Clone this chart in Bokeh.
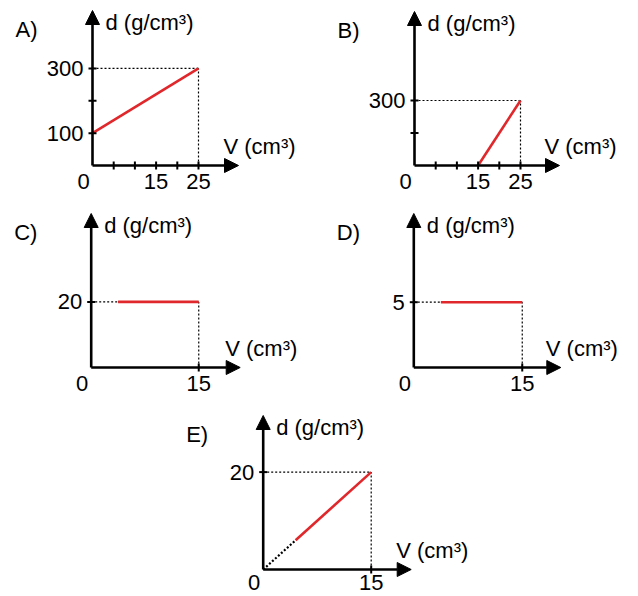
from bokeh.plotting import figure
from bokeh.models import Range1d, Arrow, NormalHead
from bokeh.core.properties import value
from bokeh.embed import file_html
from bokeh.resources import INLINE

# ---------------- data ----------------
panel_names = ["A)", "B)", "C)", "D)", "E)"]

a_x_ticks = [5, 10, 15, 20, 25]
a_x_labels = [15, 25]
a_y_ticks = [100, 200, 300]
a_y_labels = [100, 300]
a_line_v = [0, 25]
a_line_d = [100, 300]

b_x_ticks = [5, 10, 15, 20, 25]
b_x_labels = [15, 25]
b_y_ticks = [150, 300]
b_y_labels = [300]
b_line_v = [15, 25]
b_line_d = [0, 300]

c_x_ticks = [15]
c_x_labels = [15]
c_y_ticks = [20]
c_y_labels = [20]
c_line_v = [3.75, 15]
c_line_d = [20, 20]

d_x_ticks = [15]
d_x_labels = [15]
d_y_ticks = [5]
d_y_labels = [5]
d_line_v = [3.75, 15]
d_line_d = [5, 5]

e_x_ticks = [15]
e_x_labels = [15]
e_y_ticks = [20]
e_y_labels = [20]
e_line_v = [4.5, 15]
e_line_d = [6, 20]
e_origin_v = [0, 4.5]
e_origin_d = [0, 6]

y_axis_title = "d (g/cm³)"
x_axis_title = "V (cm³)"

# ---------------- layout (picture pixels) ----------------
W, H = 638, 596
OFF = 0
FONT = value("Liberation Sans")
FS = "22px"
RED = "#e0282c"

panels = [
    dict(name=panel_names[0], ox=92.0, oy=165.0, sx=4.24, sy=0.3235, xlen=146, ylen=155, lab_dy=16,
         xt=a_x_ticks, xl=a_x_labels, yt=a_y_ticks, yl=a_y_labels, lv=a_line_v, ld=a_line_d),
    dict(name=panel_names[1], ox=414.0, oy=165.0, sx=4.24, sy=0.2167, xlen=145, ylen=154, lab_dy=16,
         xt=b_x_ticks, xl=b_x_labels, yt=b_y_ticks, yl=b_y_labels, lv=b_line_v, ld=b_line_d),
    dict(name=panel_names[2], ox=90.7, oy=367.0, sx=7.17, sy=3.28, xlen=149, ylen=154, lab_dy=16,
         xt=c_x_ticks, xl=c_x_labels, yt=c_y_ticks, yl=c_y_labels, lv=c_line_v, ld=c_line_d),
    dict(name=panel_names[3], ox=413.3, oy=367.0, sx=7.23, sy=13.06, xlen=147, ylen=154, lab_dy=16,
         xt=d_x_ticks, xl=d_x_labels, yt=d_y_ticks, yl=d_y_labels, lv=d_line_v, ld=d_line_d),
    dict(name=panel_names[4], ox=262.7, oy=569.0, sx=7.2, sy=4.87, xlen=148, ylen=154, lab_dy=13,
         xt=e_x_ticks, xl=e_x_labels, yt=e_y_ticks, yl=e_y_labels, lv=e_line_v, ld=e_line_d),
]

p = figure(width=W, height=H, output_backend="svg", toolbar_location=None,
           x_range=Range1d(0, W), y_range=Range1d(0, H),
           x_axis_location=None, y_axis_location=None, min_border=0)
p.grid.visible = False
p.outline_line_color = None
p.background_fill_color = "white"
p.border_fill_color = "white"

for i, pn in enumerate(panels):
    xr, yr = f"x{i}", f"y{i}"
    ox, oy, sx, sy = pn["ox"], pn["oy"], pn["sx"], pn["sy"]
    p.extra_x_ranges[xr] = Range1d((OFF - ox) / sx, (OFF + W - ox) / sx)
    p.extra_y_ranges[yr] = Range1d((oy - (OFF + H)) / sy, (oy - OFF) / sy)
    kw = dict(x_range_name=xr, y_range_name=yr)
    xmax = pn["xlen"] / sx
    ymax = pn["ylen"] / sy

    # guide lines (dotted)
    ytop = pn["yl"][-1]
    xend = pn["xl"][-1]
    hstart = pn["lv"][0] if i in (2, 3) else 0
    p.line([hstart, xend], [ytop, ytop], line_color="black", line_width=1.2, line_dash="2 2", **kw)
    p.line([xend, xend], [0, ytop], line_color="black", line_width=1.2, line_dash="2 2", **kw)
    if i in (2, 3):
        p.line([0, hstart], [ytop, ytop], line_color="black", line_width=1.2, line_dash="2 2", **kw)
    if i == 4:
        p.line(e_origin_v, e_origin_d, line_color="black", line_width=2.2, line_dash="2 2", **kw)

    # red data line
    p.line(pn["lv"], pn["ld"], line_color=RED, line_width=2.6, **kw)

    # axes with arrow heads
    p.add_layout(Arrow(end=NormalHead(size=14, fill_color="black", line_color="black", line_width=1),
                       x_start=0, y_start=0, x_end=0, y_end=ymax, line_width=2.6, line_color="black", **kw))
    p.add_layout(Arrow(end=NormalHead(size=14, fill_color="black", line_color="black", line_width=1),
                       x_start=0, y_start=0, x_end=xmax, y_end=0, line_width=2.6, line_color="black", **kw))

    # tick marks
    p.scatter(pn["xt"], [0] * len(pn["xt"]), marker="dash", angle=1.5708, size=8,
              line_color="black", line_width=2, **kw)
    p.scatter([0] * len(pn["yt"]), pn["yt"], marker="dash", size=8,
              line_color="black", line_width=2, **kw)

    # tick labels
    p.text(pn["xl"], [0] * len(pn["xl"]), text=[str(v) for v in pn["xl"]], y_offset=pn["lab_dy"],
           text_align="center", text_baseline="middle", text_font=FONT, text_font_size=FS,
           text_color="black", **kw)
    p.text([0], [0], text=["0"], x_offset=-9, y_offset=pn["lab_dy"],
           text_align="center", text_baseline="middle", text_font=FONT, text_font_size=FS,
           text_color="black", **kw)
    p.text([0] * len(pn["yl"]), pn["yl"], text=[str(v) for v in pn["yl"]], x_offset=-9,
           text_align="right", text_baseline="middle", text_font=FONT, text_font_size=FS,
           text_color="black", **kw)

    # axis titles and panel letter
    p.text([0], [ymax], text=[y_axis_title], x_offset=13, y_offset=12,
           text_align="left", text_baseline="middle", text_font=FONT, text_font_size=FS,
           text_color="black", **kw)
    p.text([xmax], [0], text=[x_axis_title], x_offset=-15, y_offset=-19,
           text_align="left", text_baseline="middle", text_font=FONT, text_font_size=FS,
           text_color="black", **kw)
    p.text([0], [ymax], text=[pn["name"]], x_offset=-77, y_offset=19,
           text_align="left", text_baseline="middle", text_font=FONT, text_font_size=FS,
           text_color="black", **kw)

open("out.html", "w").write(file_html(p, INLINE))
